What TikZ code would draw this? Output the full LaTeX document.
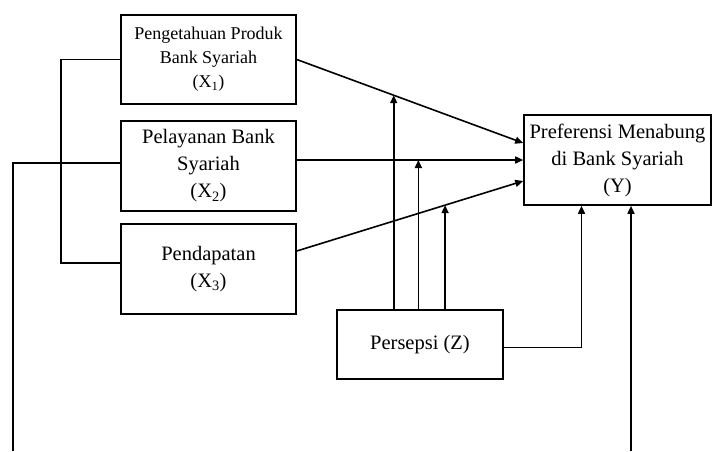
\documentclass[tikz,border=0pt]{standalone}
\usepackage{fontspec}
\setmainfont{Liberation Serif}
\usetikzlibrary{arrows.meta,calc}

\begin{document}
\begin{tikzpicture}[x=1pt,y=-1pt,var/.style={draw,line width=1.6pt,fill=white,minimum width=175pt,minimum height=90pt,inner sep=0pt,align=center,font=\fontsize{20.5}{27}\selectfont},link/.style={line width=1.6pt},arr/.style={link,-{Triangle[length=8pt,width=7pt]}}]
\useasboundingbox (0,0) rectangle (713,451);
\coordinate (P1) at (208.5,59.5);
\coordinate (P2) at (208.5,166);
\coordinate (P3) at (208.5,269);
\coordinate (PY) at (617.5,160);
\coordinate (PZ) at (420,344.5);
\coordinate (fbL) at (13,451);
\coordinate (fbR) at (631,451);
\node[var,minimum height=89pt,font=\fontsize{18}{24}\selectfont] (X1) at (P1) {Pengetahuan Produk\\Bank Syariah\\(X\textsubscript{1})};
\node[var] (X2) at (P2) {Pelayanan Bank\\Syariah\\(X\textsubscript{2})};
\node[var] (X3) at (P3) {Pendapatan\\(X\textsubscript{3})};
\node[var,minimum width=187pt] (Y) at (PY) {Preferensi Menabung\\di Bank Syariah\\(Y)};
\node[var,minimum width=166pt,minimum height=69pt] (Z) at (PZ) {Persepsi (Z)};
\coordinate (x2in) at ($(X2.west)+(0,-3)$);
\coordinate (x3in) at ($(X3.west)+(0,-6)$);
\coordinate (x3out) at ($(X3.east)+(0,-18)$);
\coordinate (yin1) at ($(Y.west)+(0,-17)$);
\coordinate (yin3) at ($(Y.west)+(0,21)$);
\coordinate (zy) at ($(Y.south)+(-36,0)$);
% direct effects
\draw[arr] (X1.east) -- coordinate[pos=0.428] (m1) (yin1);
\draw[arr] (X2.east |- Y.west) -- coordinate[pos=0.537] (m2) (Y.west);
\draw[arr] (x3out) -- coordinate[pos=0.655] (m3) (yin3);
% moderation
\draw[arr] (m1 |- Z.north) -- (m1);
\draw[arr] (m2 |- Z.north) -- (m2);
\draw[arr] (m3 |- Z.north) -- (m3);
\draw[arr] ($(Z.east)+(0,3)$) -| (zy);
% joint lines
\draw[link] (X1.west) -- ++(-59,0) |- (x3in);
\draw[link] (x2in) -| (fbL);
\draw[arr] (fbR) -- (fbR |- Y.south);
\end{tikzpicture}
\end{document}
